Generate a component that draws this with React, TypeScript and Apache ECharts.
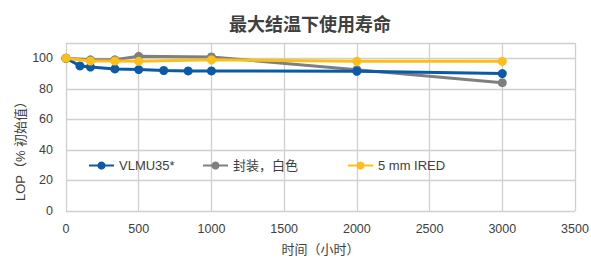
import React, { useEffect, useRef } from "react";
import * as echarts from "echarts";

const title = "最大结温下使用寿命";
const xName = "时间（小时）";
const yName = "LOP（% 初始值）";

const seriesNames = ["VLMU35*", "封装，白色", "5 mm IRED"];
const seriesColors = ["#0a5aa8", "#7f7f7f", "#fcbf17"];
const legendLefts = [83, 197, 342];

const blueHours = [0, 96, 168, 336, 500, 672, 840, 1000, 2000, 3000];
const blueLop = [100, 95, 94.3, 93, 92.6, 92, 91.7, 91.7, 91.5, 90];

const grayHours = [0, 168, 336, 500, 1000, 2000, 3000];
const grayLop = [100, 99, 99, 101.3, 100.9, 92.5, 84];

const yellowHours = [0, 168, 336, 500, 1000, 2000, 3000];
const yellowLop = [100, 98.2, 98.2, 98, 99, 98, 98];

const FONT = "'Helvetica Neue', 'Liberation Sans', 'Noto Sans CJK SC', sans-serif";

export default function App() {
  const ref = useRef<HTMLDivElement>(null);
  useEffect(() => {
    document.body.style.margin = "0";
    const chart = echarts.init(ref.current!, null, { renderer: "svg", width: 591, height: 258 });
    const mk = (xs: number[], ys: number[]) => xs.map((x, i) => [x, ys[i]]);
    const data = [mk(blueHours, blueLop), mk(grayHours, grayLop), mk(yellowHours, yellowLop)];
    chart.setOption({
      animation: false,
      textStyle: { fontFamily: FONT },
      title: {
        text: title,
        left: 305,
        textAlign: "center",
        top: 11,
        textStyle: { fontSize: 18, fontWeight: "bold", color: "#404040", fontFamily: FONT },
      },
      legend: seriesNames.map((n, i) => ({
        left: legendLefts[i],
        top: 154,
        itemWidth: 25,
        itemHeight: 10,
        textStyle: { fontSize: 13, color: "#404040", fontFamily: FONT },
        data: [n],
      })),
      graphic: [
        {
          type: "text",
          x: 20,
          y: 148,
          rotation: Math.PI / 2,
          style: {
            text: yName,
            fontSize: 13,
            fill: "#404040",
            fontFamily: FONT,
            align: "center",
            verticalAlign: "middle",
          },
        },
      ],
      grid: { left: 66, right: 16, top: 43, bottom: 47, containLabel: false, outerBoundsMode: "none" },
      xAxis: {
        type: "value",
        min: 0,
        max: 3500,
        interval: 500,
        name: xName,
        nameLocation: "middle",
        nameGap: 32,
        nameTextStyle: { fontSize: 13, color: "#404040", fontFamily: FONT },
        axisLine: { show: false },
        axisTick: { show: false },
        axisLabel: { fontSize: 12.5, color: "#404040", margin: 12, formatter: (v: number) => String(v) },
        splitLine: { lineStyle: { color: "#d0d0d0", width: 1.3 } },
      },
      yAxis: {
        type: "value",
        min: 0,
        max: 110,
        interval: 20,
        axisLine: { show: false },
        axisTick: { show: false },
        axisLabel: { fontSize: 12.5, color: "#404040", margin: 13, showMaxLabel: false },
        splitLine: { lineStyle: { color: "#d0d0d0", width: 1.3 } },
      },
      series: seriesNames.map((n, i) => ({
        name: n,
        type: "line",
        data: data[i],
        symbol: "circle",
        symbolSize: 9,
        color: seriesColors[i],
        lineStyle: { width: 3, color: seriesColors[i] },
        itemStyle: { color: seriesColors[i] },
        z: i === 2 ? 4 : i === 0 ? 3 : 2,
      })),
    });
    return () => chart.dispose();
  }, []);
  return <div ref={ref} style={{ width: 591, height: 258 }} />;
}
